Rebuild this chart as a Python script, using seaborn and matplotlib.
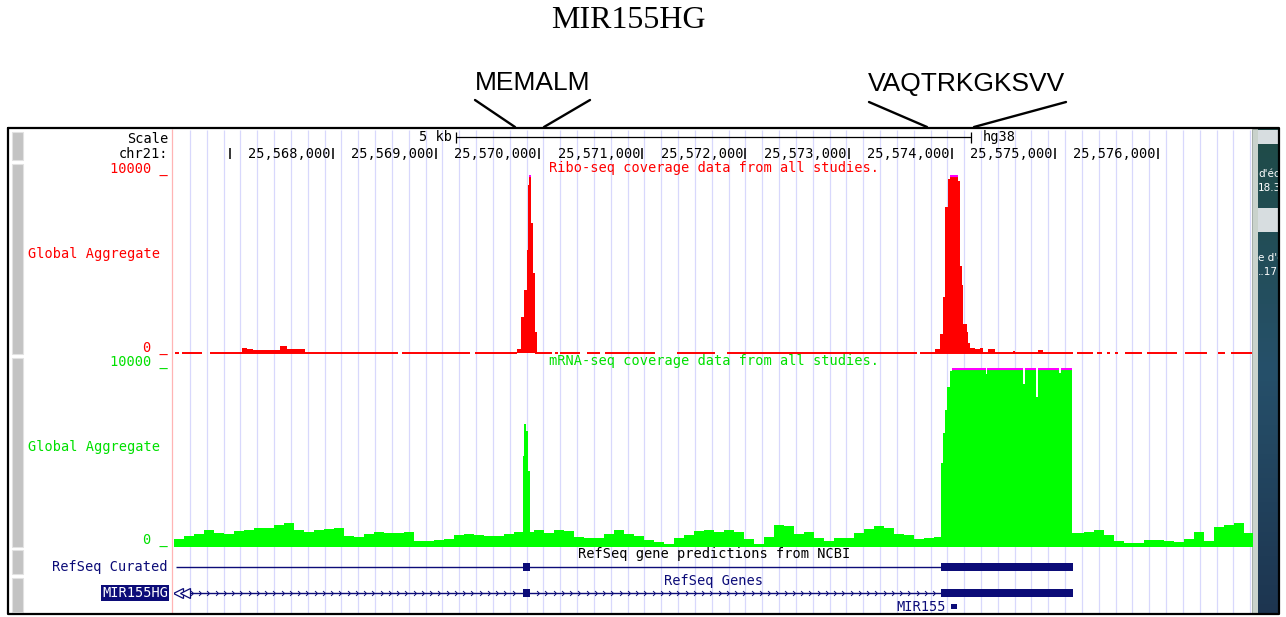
import numpy as np
import matplotlib
matplotlib.use("Agg")
import matplotlib.pyplot as plt
from matplotlib.patches import Rectangle
import seaborn as sns

sns.set_style("white")
plt.rcParams["font.family"] = ["DejaVu Sans"]
plt.rcParams["text.color"] = "black"

W, H = 1286, 617

# ---- data (hg38 chr21) ----
view_start, view_end = 25566457, 25576914

tick_pos = [25567000, 25568000, 25569000, 25570000, 25571000, 25572000,
            25573000, 25574000, 25575000, 25576000]
tick_labels = ["", "25,568,000", "25,569,000", "25,570,000", "25,571,000",
               "25,572,000", "25,573,000", "25,574,000", "25,575,000", "25,576,000"]
scale_start, scale_end = 25569192, 25574192

# Ribo-seq coverage (start, end, reads)
ribo_start = [25567117, 25567165, 25567223, 25567311, 25567388, 25567485, 25567553, 25567631, 25567679,
              25569784, 25569823, 25569852, 25569881, 25569891, 25569900, 25569920, 25569939, 25569959,
              25573839, 25573887, 25573916, 25573936, 25573965, 25573984, 25574062, 25574081, 25574101,
              25574110, 25574149, 25574159, 25574178, 25574227, 25574275, 25574353, 25574595, 25574838]
ribo_end = [25567165, 25567223, 25567311, 25567388, 25567485, 25567553, 25567631, 25567679, 25567728,
            25569823, 25569852, 25569881, 25569891, 25569900, 25569920, 25569939, 25569959, 25569978,
            25573887, 25573916, 25573936, 25573965, 25573984, 25574062, 25574081, 25574101, 25574110,
            25574149, 25574159, 25574178, 25574227, 25574275, 25574304, 25574421, 25574614, 25574886]
ribo_cov = [280, 225, 115, 115, 140, 340, 170, 170, 225,
            225, 1980, 3500, 5750, 9430, 15000, 7290, 4460, 1130,
            225, 1070, 3100, 8170, 9800, 15000, 9690, 4900, 3780,
            1630, 1130, 560, 280, 170, 280, 170, 85, 115]

# low-level ribo signal drawn as baseline dashes
ribo_base_start = [25566467, 25566535, 25566806, 25568669, 25569377, 25569959, 25570153, 25570201,
                   25570463, 25570638, 25571336, 25571821, 25573693, 25575216, 25575410, 25575507,
                   25575585, 25575682, 25575895, 25576264, 25576584, 25576710]
ribo_base_end = [25566506, 25566729, 25568630, 25569328, 25569784, 25570124, 25570182, 25570395,
                 25570589, 25571123, 25571705, 25573664, 25575177, 25575371, 25575459, 25575536,
                 25575614, 25575847, 25576186, 25576477, 25576652, 25576914]

# mRNA-seq background coverage, ~97 bp bins from view_start
mrna_bin = 97
mrna_bg_cov = [450, 620, 730, 955, 785, 730, 900, 955, 1070, 1070,
               1235, 1350, 955, 845, 955, 1010, 1070, 620, 560, 730,
               845, 785, 785, 845, 340, 340, 395, 450, 675, 730,
               675, 620, 620, 730, 845, 845, 955, 785, 955, 900,
               560, 505, 505, 730, 955, 730, 620, 395, 280, 170,
               505, 675, 900, 955, 845, 955, 845, 450, 170, 560,
               1235, 1180, 730, 845, 505, 340, 505, 505, 785, 1010,
               1180, 1070, 730, 675, 450, 505, 560,
               845, 845, 845, 845, 845, 845, 845, 845, 845, 845, 845, 845, 785,
               785, 845, 955, 675, 340, 225, 225, 395, 395, 340,
               280, 450, 845, 340, 1125, 1235, 1350, 785]

# mRNA-seq peaks (start, end, reads)
mrna_start = [25569842, 25569852, 25569871, 25569891,
              25573897, 25573916, 25573936, 25573955, 25573984, 25574004, 25574333, 25574343,
              25574692, 25574712, 25574818, 25574838, 25575042, 25575061]
mrna_end = [25569852, 25569871, 25569891, 25569910,
            25573916, 25573936, 25573955, 25573984, 25574004, 25574333, 25574343, 25574692,
            25574712, 25574818, 25574838, 25575042, 25575061, 25575168]
mrna_cov = [5060, 6850, 6460, 4210,
            4660, 6350, 7640, 8930, 9830, 15000, 9660, 15000,
            9100, 15000, 8370, 15000, 9720, 15000]

# gene models
gene_tx = (25566476, 25573897)
gene_exon_start = [25569842, 25573897]
gene_exon_end = [25569910, 25575177]
mir155 = (25573994, 25574052)

ymax = 10000
RED, GREEN, MAG, NAVY = "#ff0000", "#00ff00", "#ff00ff", "#0c0c78"
GREEN_TXT = "#00e000"
MONO = "DejaVu Sans Mono"

fig = plt.figure(figsize=(W / 100, H / 100), dpi=100)
fig.patch.set_facecolor("white")


def px_axes(x0, y0, x1, y1, z):
    ax = fig.add_axes([x0 / W, 1 - y1 / H, (x1 - x0) / W, (y1 - y0) / H], zorder=z)
    ax.patch.set_alpha(0)
    return ax


# ---- background / decoration layer (pixel coordinates) ----
bg = px_axes(0, 0, W, H, 0)
bg.set_xlim(0, W)
bg.set_ylim(H, 0)

bg.text(628, 21, "MIR155HG", family="Liberation Serif", fontsize=23, ha="center", va="center",
        color="black")
bg.text(533, 83, "MEMALM", family="Liberation Sans", fontsize=19, ha="center", va="center",
        color="black")
bg.text(967, 84, "VAQTRKGKSVV", family="Liberation Sans", fontsize=19, ha="center", va="center",
        color="black")
bg.plot([475, 515], [100, 127], color="black", lw=1.7)
bg.plot([590, 544], [100, 127], color="black", lw=1.7)
bg.plot([869, 927], [102, 127], color="black", lw=1.7)
bg.plot([1066, 974], [102, 127], color="black", lw=1.7)

# guidelines
bg.vlines(np.arange(190, 1252, 16.83), 130, 613, color="#d8d8fc", lw=0.9)
bg.vlines(172, 129, 613, color="#ffb4b4", lw=0.9)

# left buttons
for y0, y1 in [(132, 160), (164, 354), (358, 547), (550, 574), (578, 612)]:
    bg.add_patch(Rectangle((12, y0), 11, y1 - y0, facecolor="#c3c3c3", edgecolor="#e2e2e2", lw=0.8))

# desktop strip on the right
bg.add_patch(Rectangle((1252, 129), 6, 485, facecolor="#c9d2cc", edgecolor="#9aa59e", lw=0.6))
grad = np.linspace(0, 1, 100).reshape(-1, 1)
cmap = matplotlib.colors.LinearSegmentedColormap.from_list("desk", ["#1f4b47", "#26506a", "#1d3550"])
bg.imshow(grad, extent=[1258, 1278, 614, 129], cmap=cmap, aspect="auto", zorder=1)
bg.add_patch(Rectangle((1258, 130), 20, 14, facecolor="#d7dde0", lw=0, zorder=2))
bg.add_patch(Rectangle((1258, 208), 20, 24, facecolor="#d7dde0", lw=0, zorder=2))
for yy, s in [(174, "d'éc"), (188, "18.3"), (258, "e d'é"), (272, "..17")]:
    bg.text(1258, yy, s, fontsize=7.5, color="white", ha="left", va="center", zorder=3, clip_on=True)
bg.set_xlim(0, W)
bg.set_ylim(H, 0)

# frame
bg.plot([8, 1279, 1279, 8, 8], [128, 128, 614, 614, 128], color="black", lw=1.6, zorder=4)

# left labels
lab = dict(family=MONO, fontsize=9.8, va="center")
bg.text(168, 139, "Scale", ha="right", color="black", **lab)
bg.text(168, 154, "chr21:", ha="right", color="black", **lab)
bg.text(168, 169, "10000 _", ha="right", color=RED, **lab)
bg.text(160, 254, "Global Aggregate", ha="right", color=RED, **lab)
bg.text(168, 348, "0 _", ha="right", color=RED, **lab)
bg.text(168, 362, "10000 _", ha="right", color=GREEN_TXT, **lab)
bg.text(160, 447, "Global Aggregate", ha="right", color=GREEN_TXT, **lab)
bg.text(168, 540, "0 _", ha="right", color=GREEN_TXT, **lab)
bg.text(168, 567, "RefSeq Curated", ha="right", color=NAVY, **lab)
bg.text(168, 593, "MIR155HG", ha="right", color="white",
        bbox=dict(facecolor=NAVY, edgecolor="none", pad=0.6), **lab)
bg.text(714, 168, "Ribo-seq coverage data from all studies.", ha="center", color=RED, **lab)
bg.text(714, 361, "mRNA-seq coverage data from all studies.", ha="center", color=GREEN_TXT, **lab)
bg.text(714, 554, "RefSeq gene predictions from NCBI", ha="center", color="black", **lab)
bg.text(714, 581, "RefSeq Genes", ha="center", color=NAVY, **lab)
bg.set_axis_off()

# ---- genomic layer: ruler and gene models ----
trk = px_axes(174, 0, 1252, H, 2)
trk.set_xlim(view_start, view_end)
trk.set_ylim(H, 0)

trk.vlines(tick_pos, 148, 159, color="black", lw=1.1)
for p, s in zip(tick_pos, tick_labels):
    if s:
        trk.text(p - 22, 154, s, ha="right", color="black", **lab)
trk.hlines(137, scale_start, scale_end, color="black", lw=0.9)
trk.vlines([scale_start, scale_end], 132, 143, color="black", lw=0.9)
trk.text(scale_start - 40, 137, "5 kb", ha="right", color="black", **lab)
trk.text(scale_end + 110, 137, "hg38", ha="left", color="black", **lab)

# RefSeq Curated row
trk.hlines(567, gene_tx[0], gene_tx[1], color=NAVY, lw=1.0)
# RefSeq Genes row
trk.hlines(593, gene_tx[0], gene_tx[1], color=NAVY, lw=1.0)
chev = np.arange(25566640, gene_tx[1] - 40, 80)
chev = chev[(chev < gene_exon_start[0] - 30) | (chev > gene_exon_end[0] + 30)]
trk.plot(chev, np.full(len(chev), 593), ls="none", marker=[(-1, 1), (0, 0), (-1, -1)],
         ms=3.5, mew=0.7, mec=NAVY, mfc="none")
trk.plot([25566500, 25566560], [593, 593], ls="none", marker="<", ms=6.5, mew=0.9,
         mec=NAVY, mfc="white")
for yrow in (567, 593):
    for s, e in zip(gene_exon_start, gene_exon_end):
        trk.add_patch(Rectangle((s, yrow - 4), e - s, 8, facecolor=NAVY, lw=0))
trk.add_patch(Rectangle((mir155[0], 603.5), mir155[1] - mir155[0], 5.5, facecolor=NAVY, lw=0))
trk.text(mir155[0] - 45, 607, "MIR155", ha="right", color=NAVY, **lab)
trk.set_axis_off()


# ---- coverage tracks ----
def coverage(ax, starts, ends, cov, color):
    edges = np.unique(np.concatenate([starts, ends])).tolist()
    mids = (np.asarray(starts) + np.asarray(ends)) / 2
    sns.histplot(x=mids, weights=cov, bins=edges, element="step", fill=True,
                 color=color, alpha=1, linewidth=0, ax=ax)


ribo_ax = px_axes(174, 175, 1252, 352.5, 3)
ribo_ax.hlines([0] * len(ribo_base_start), ribo_base_start, ribo_base_end,
               color=RED, lw=1.4, clip_on=False)
coverage(ribo_ax, ribo_start, ribo_end, ribo_cov, RED)

mrna_ax = px_axes(174, 368, 1252, 546.7, 3)
bg_edges = view_start + mrna_bin * np.arange(len(mrna_bg_cov) + 1)
sns.histplot(x=bg_edges[:-1] + mrna_bin / 2, weights=mrna_bg_cov, bins=bg_edges.tolist(),
             element="step", fill=True, color=GREEN, alpha=1, linewidth=0, ax=mrna_ax)
coverage(mrna_ax, mrna_start, mrna_end, mrna_cov, GREEN)

for ax, s_, e_, c_ in [(ribo_ax, ribo_start, ribo_end, ribo_cov),
                       (mrna_ax, mrna_start, mrna_end, mrna_cov)]:
    over = [(s, e) for s, e, c in zip(s_, e_, c_) if c > ymax]
    ax.hlines([ymax - 60] * len(over), [o[0] for o in over], [o[1] for o in over],
              color=MAG, lw=1.6)
    ax.set_xlim(view_start, view_end)
    ax.set_ylim(0, ymax)
    ax.set_axis_off()

fig.savefig("out.png", dpi=100, facecolor="white")
